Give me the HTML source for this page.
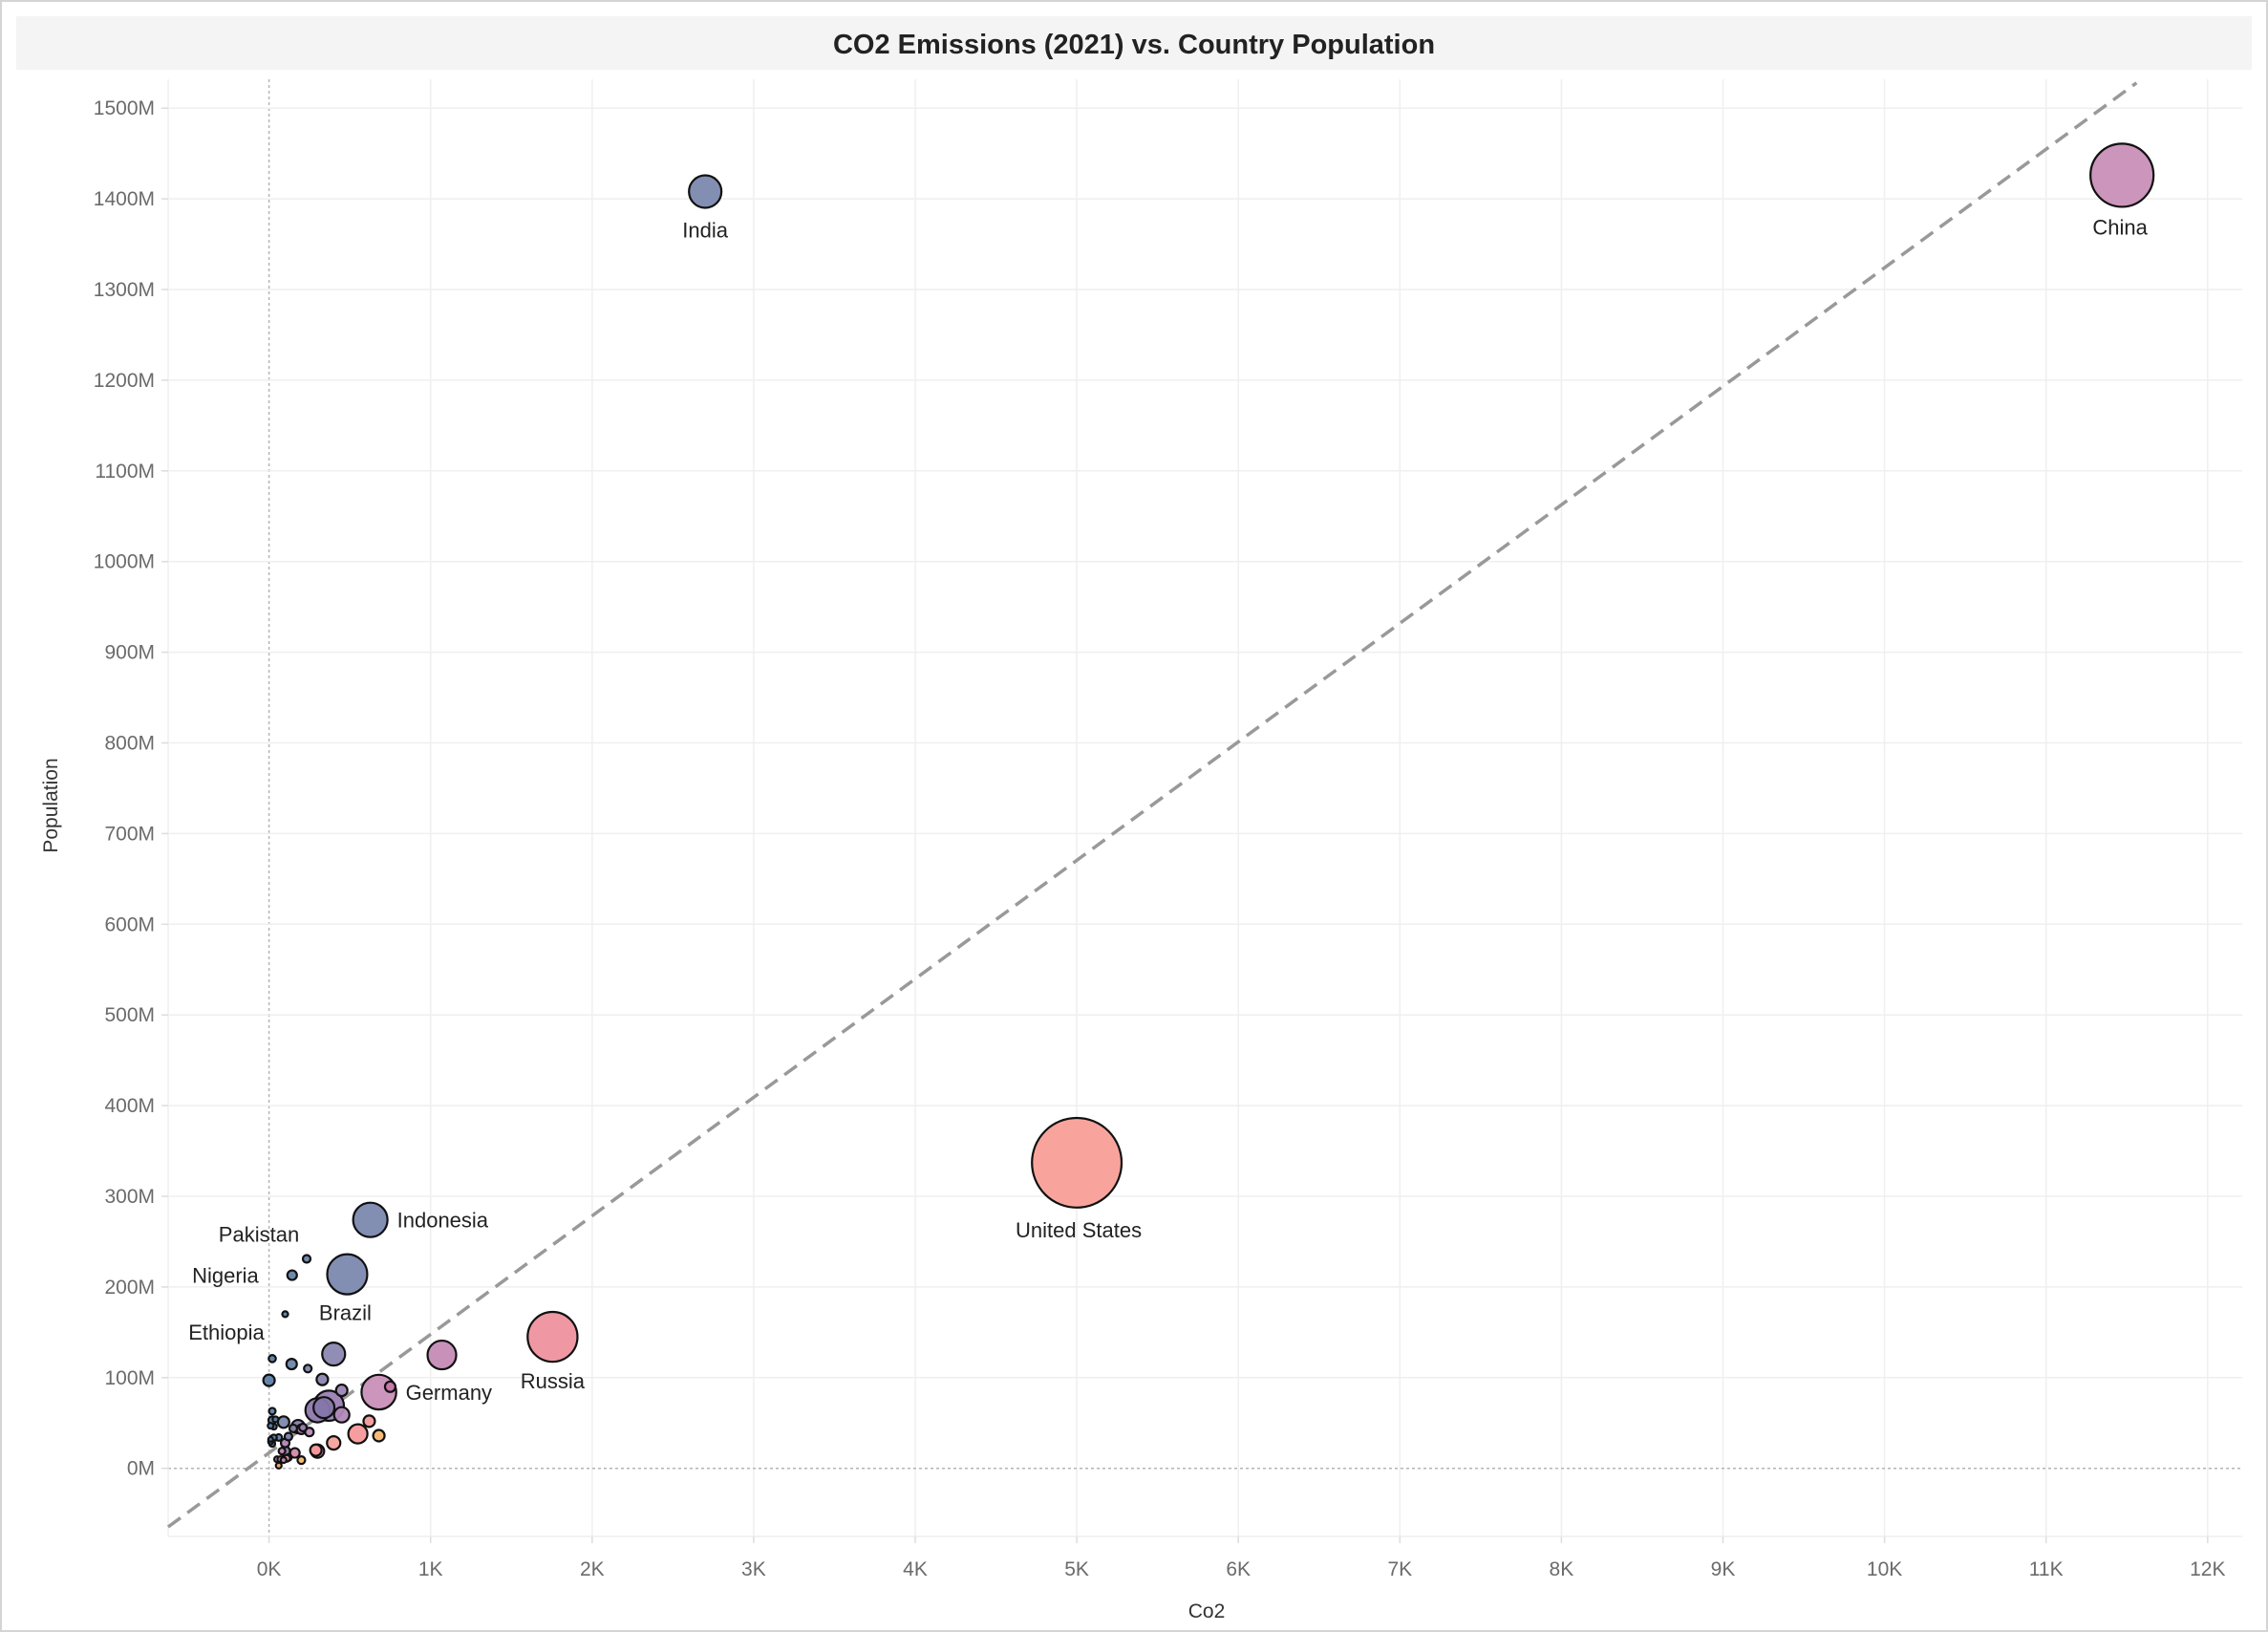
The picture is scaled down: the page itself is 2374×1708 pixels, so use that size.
<!DOCTYPE html>
<html><head><meta charset="utf-8">
<style>
html,body{margin:0;padding:0;background:#fff;}
svg{display:block;font-family:"Liberation Sans","DejaVu Sans",sans-serif;}
</style></head>
<body>
<svg id="chart" width="2374" height="1708" viewBox="0 0 2374 1708" xmlns="http://www.w3.org/2000/svg">
  <rect x="1" y="1" width="2372" height="1706" fill="#fff" stroke="#d4d4d4" stroke-width="2"/>
  <rect x="17" y="17" width="2340" height="56" fill="#f4f4f4"/>
  <text x="1187" y="56" text-anchor="middle" font-size="29" font-weight="bold" fill="#222">CO2 Emissions (2021) vs. Country Population</text>
  <g id="grid"></g>
  <g id="axes"></g>
  <g id="trend"></g>
  <g id="marks"></g>
  <g id="labels"></g>
  <text x="1263" y="1693" text-anchor="middle" font-size="21" fill="#333">Co2</text>
  <text transform="translate(60,843) rotate(-90)" text-anchor="middle" font-size="21" fill="#333">Population</text>
</svg>
<script>
// data
const xTicks = [0,1,2,3,4,5,6,7,8,9,10,11,12];
const xTickLabels = ["0K","1K","2K","3K","4K","5K","6K","7K","8K","9K","10K","11K","12K"];
const yTicks = [0,100,200,300,400,500,600,700,800,900,1000,1100,1200,1300,1400,1500];
const yTickLabels = ["0M","100M","200M","300M","400M","500M","600M","700M","800M","900M","1000M","1100M","1200M","1300M","1400M","1500M"];
const countries = ["China","India","United States","Russia","Indonesia","Brazil","Pakistan","Nigeria","Bangladesh","Ethiopia","Germany","Japan","Mexico","Philippines","Egypt","Vietnam","DR Congo","Iran","Turkey","Thailand","France","UK","Italy","South Africa","Korea","Canada","Saudi Arabia","Australia","Kenya","Colombia","Argentina","Poland","Ukraine","Algeria","Iraq","Malaysia","Peru","Uzbekistan","Kazakhstan","Chile","Netherlands","Tanzania","Sudan","Uganda","Myanmar","Ghana","Nepal","Angola","Madagascar","Mozambique","Cameroon","Venezuela","Romania","Belgium","Czechia","Sweden","Greece","UAE","Israel","Qatar"];
const co2 = [11.47,2.70,5.00,1.755,0.627,0.484,0.233,0.143,0.10,0.02,0.68,1.07,0.40,0.14,0.24,0.33,0.00,0.45,0.75,0.37,0.30,0.34,0.45,0.62,0.55,0.68,0.40,0.29,0.02,0.09,0.18,0.21,0.25,0.15,0.20,0.02,0.06,0.12,0.30,0.10,0.16,0.02,0.03,0.01,0.04,0.03,0.01,0.03,0.01,0.01,0.02,0.10,0.08,0.12,0.11,0.05,0.07,0.20,0.09,0.06];
const population = [1426,1408,337,145,274,214,231,213,170,121,84,125,126,115,110,98,97,86,90,69,64,67,59,52,38,36,28,20,53,51,46,45,40,44,43,33,34,35,19,19,17,63,46,47,54,33,30,34,29,32,27,28,19,12,11,10,10,9,9,3];
const sizes = [1090,289,2200,680,324,440,16,25,9,14,330,225,144,30,16,36,36,36,30,250,160,120,64,36,100,36,49,36,16,36,49,16,20,16,25,9,12,16,49,25,25,12,9,9,9,9,6,9,6,6,9,20,12,12,12,9,9,16,9,9];
const colors = ["#c98fb8","#7b88ae","#f89f98","#ee929f","#7b88ae","#7b88ae","#6e84a9","#6584a9","#5d7fa5","#5b80a8","#c98fb8","#c58bb6","#8a88b0","#6f86aa","#7f85ad","#8c86b0","#5d80a8","#9b88b5","#c776a9","#9a80b2","#8e78ad","#8677ab","#b189b8","#f19a98","#f6999a","#f5b66e","#f5a29b","#f39999","#5b7ea7","#7c89ae","#8a7cad","#9280b2","#b98bbb","#85849f","#c58ab6","#5a7da6","#6783a8","#7b80a8","#c78ab5","#8c7bae","#d289a8","#5e80a8","#5c7fa7","#5a7ea7","#5f7fa7","#6080a8","#5a7da6","#6080a8","#5a7da6","#5a7da6","#5c7ea7","#b286b6","#c58bb6","#f2a38f","#e08aa0","#b37fb0","#cb7da4","#f5b66e","#c58bb6","#f2a060"];
const labelNames = ["China","India","United States","Russia","Indonesia","Brazil","Pakistan","Nigeria","Ethiopia","Germany"];
const labelDx = [-2,0,2,0,28,-2,-50,-35,-48,28];
const labelDy = [62,48,78,54,8,48,-18,8,-20,8];
const labelAnchor = ["middle","middle","middle","middle","start","middle","middle","end","middle","start"];
const trendSlope = 130.7;   // M per K
const trendIntercept = 17;  // M

// scales
const X0 = 281.6, XK = 169.1;
const Y0 = 1536.7, YM = 0.949;
const plotL = 176, plotR = 2347, plotT = 83, plotB = 1608;
const sx = v => X0 + v * XK;
const sy = v => Y0 - v * YM;
const NS = "http://www.w3.org/2000/svg";
function mk(tag, attrs, parent){ const e = document.createElementNS(NS, tag); for (const k in attrs) e.setAttribute(k, attrs[k]); parent.appendChild(e); return e; }

const grid = document.getElementById('grid');
const axes = document.getElementById('axes');
xTicks.forEach((t,i) => {
  const x = sx(t);
  const l = mk('line', {x1:x, x2:x, y1:plotT, y2:plotB, stroke: t===0 ? '#b5b5b5' : '#efefef', 'stroke-width':1.5, 'stroke-dasharray': t===0 ? '3,3' : 'none'}, grid);
  
  
  const tk = mk('line', {x1:x, x2:x, y1:plotB, y2:plotB+7, stroke:'#ddd', 'stroke-width':1.5}, axes);
  
  
  const tx = mk('text', {x:x, y:1649, 'text-anchor':'middle', 'font-size':21, fill:'#6b6b6b'}, axes);
  tx.textContent = xTickLabels[i];
  
  
});
yTicks.forEach((t,i) => {
  const y = sy(t);
  const l = mk('line', {x1:plotL, x2:plotR, y1:y, y2:y, stroke: t===0 ? '#b5b5b5' : '#efefef', 'stroke-width':1.5, 'stroke-dasharray': t===0 ? '3,3' : 'none'}, grid);
  
  
  const tk = mk('line', {x1:plotL-7, x2:plotL, y1:y, y2:y, stroke:'#ddd', 'stroke-width':1.5}, axes);
  
  
  const tx = mk('text', {x:162, y:y+7, 'text-anchor':'end', 'font-size':21, fill:'#6b6b6b'}, axes);
  tx.textContent = yTickLabels[i];
  
  
});
const bl = mk('line', {x1:plotL, x2:plotR, y1:plotB, y2:plotB, stroke:'#efefef', 'stroke-width':1.5}, grid);


const ll = mk('line', {x1:plotL, x2:plotL, y1:plotT, y2:plotB, stroke:'#efefef', 'stroke-width':1.5}, grid);



const xa = (plotL - X0)/XK, xb = 11.56;
const tl = mk('line', {x1:sx(xa), y1:sy(trendSlope*xa+trendIntercept), x2:sx(xb), y2:sy(trendSlope*xb+trendIntercept), stroke:'#999', 'stroke-width':3.5, 'stroke-dasharray':'16,9'}, document.getElementById('trend'));



const marks = document.getElementById('marks');
const order = countries.map((c,i)=>i).sort((a,b)=>sizes[b]-sizes[a]);
order.forEach(i => {
  const c = mk('circle', {cx:sx(co2[i]), cy:sy(population[i]), r:Math.sqrt(sizes[i]), fill:colors[i], 'fill-opacity':0.95, stroke:'#111', 'stroke-width':2.2}, marks);
  
  
});

const labels = document.getElementById('labels');
labelNames.forEach((n,j) => {
  const i = countries.indexOf(n);
  const t = mk('text', {x:sx(co2[i])+labelDx[j], y:sy(population[i])+labelDy[j], 'text-anchor':labelAnchor[j], 'font-size':22, fill:'#222'}, labels);
  t.textContent = n;
  
  
});
</script>
</body></html>
